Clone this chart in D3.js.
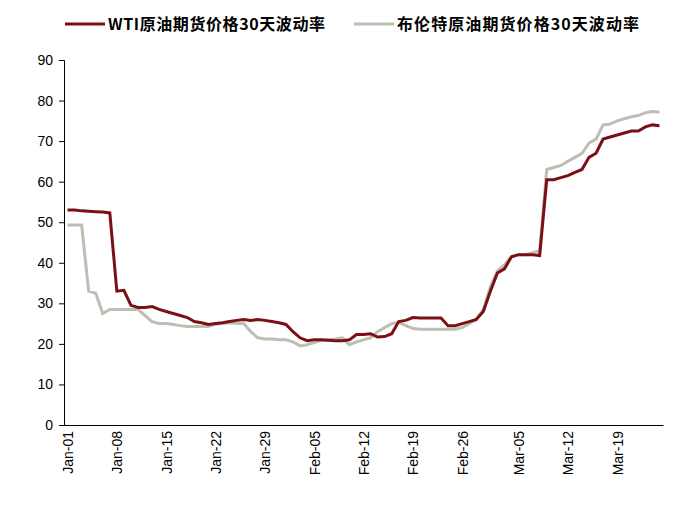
<!DOCTYPE html>
<html><head><meta charset="utf-8">
<script src="https://cdn.jsdelivr.net/npm/d3@7"></script>
<style>body{margin:0;background:#fff;font-family:"Noto Sans CJK SC","DejaVu Sans",sans-serif}</style>
</head><body><div id="chart"></div>
<script>
// Données : une valeur par jour, du 1er janvier au 25 mars 2020
const dateDebut = new Date(2020, 0, 1);
const wti = [53,53,52.8,52.7,52.6,52.5,52.3,33,33.2,29.5,29,29,29.2,28.5,28,27.5,27,26.5,25.5,25.2,24.8,25,25.2,25.5,25.8,26,25.8,26,25.8,25.5,25.2,24.8,23,21.5,20.8,21,21,20.9,20.8,20.8,21,22.3,22.3,22.5,21.7,21.8,22.5,25.5,25.8,26.5,26.4,26.4,26.4,26.4,24.5,24.5,25,25.5,26,28,33,37.5,38.5,41.5,42,42,42,41.8,60.5,60.5,61,61.5,62.3,63,66,67,70.5,71,71.5,72,72.5,72.5,73.5,74,73.8];
const brent = [49.3,49.3,49.3,33,32.5,27.5,28.5,28.5,28.5,28.5,28.5,27,25.5,25,25,24.8,24.5,24.3,24.3,24.3,24.3,24.8,25,25.2,25,25,23,21.5,21.2,21.2,21,21,20.5,19.5,19.8,20.3,20.8,21,21.2,21.5,19.8,20.5,21,21.5,23,24,25,25.3,24.5,23.8,23.6,23.6,23.6,23.6,23.6,23.6,24,25,26,28.5,34,38,39.5,41.5,42,42,42.5,43,63,63.5,64,65,66,67,69.5,70.5,74,74.2,75,75.5,76,76.3,77,77.3,77.2];
const series = [
  {nom: "WTI原油期货价格30天波动率", valeurs: wti, couleur: "#7a1014"},
  {nom: "布伦特原油期货价格30天波动率", valeurs: brent, couleur: "#bdbfb3"}
];
const ticksJours = [0,7,14,21,28,35,42,49,56,64,71,78];

const largeur = 685, hauteur = 510;
const marge = {top: 60, left: 64, right: 22, bottom: 85};
const svg = d3.select("#chart").append("svg").attr("width", largeur).attr("height", hauteur);

const x = d3.scaleLinear().domain([-0.5, wti.length - 0.5]).range([marge.left, largeur - marge.right]);
const y = d3.scaleLinear().domain([0, 90]).range([hauteur - marge.bottom, marge.top]);
const fmt = d3.timeFormat("%b-%d");

// Axe X
const axeX = svg.append("g").attr("transform", "translate(0," + (hauteur - marge.bottom) + ")")
  .call(d3.axisBottom(x).tickValues(ticksJours).tickSize(0)
    .tickFormat(d => fmt(d3.timeDay.offset(dateDebut, d))));
axeX.select(".domain").attr("stroke", "#000");
axeX.selectAll("text").attr("font-size", 14).attr("fill", "#000")
  .attr("transform", "rotate(-90)").attr("text-anchor", "end")
  .attr("x", -6).attr("y", 0).attr("dy", "0.35em");

// Axe Y
const axeY = svg.append("g").attr("transform", "translate(" + marge.left + ",0)")
  .call(d3.axisLeft(y).ticks(9).tickSize(5).tickPadding(6));
axeY.selectAll("text").attr("font-size", 14).attr("fill", "#000");
axeY.select(".domain").attr("stroke", "#000");

// Courbes
const ligne = d3.line().x((d, i) => x(i)).y(d => y(d));
series.slice().reverse().forEach(s => {
  svg.append("path").datum(s.valeurs).attr("fill", "none")
    .attr("stroke", s.couleur).attr("stroke-width", 3).attr("d", ligne);
});

// Légende
const legende = [{x0: 65}, {x0: 354}];
series.forEach((s, i) => {
  const g = svg.append("g").attr("transform", "translate(" + legende[i].x0 + ",24)");
  g.append("line").attr("x1", 0).attr("x2", 40).attr("stroke", s.couleur).attr("stroke-width", 3);
  g.append("text").attr("x", 43).attr("dy", "0.35em").attr("font-size", 16).attr("font-weight", "bold")
    .attr("textLength", i === 0 ? 217 : 242).text(s.nom);
});
</script></body></html>
